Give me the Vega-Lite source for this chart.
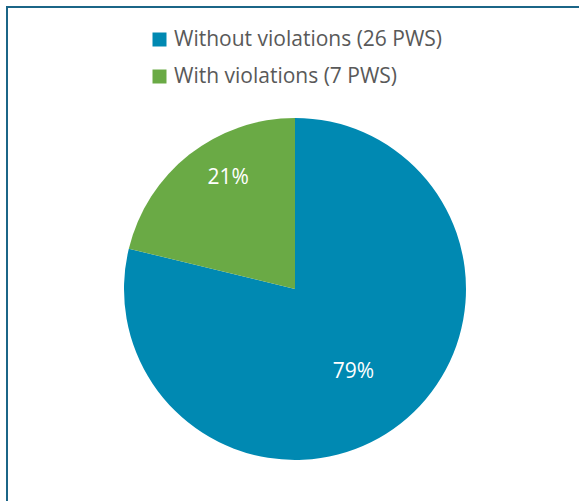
{
  "$schema": "https://vega.github.io/schema/vega-lite/v6.json",
  "width": 576,
  "height": 564,
  "autosize": {"type": "none"},
  "padding": {"left": 7, "top": 7, "right": -4, "bottom": -70},
  "background": "white",
  "config": {
    "view": {"stroke": null},
    "legend": {
      "orient": "none",
      "legendX": 142,
      "legendY": 22,
      "title": null,
      "padding": 0,
      "symbolType": "square",
      "symbolSize": 196,
      "symbolStrokeWidth": 0,
      "labelFont": "Open Sans",
      "labelFontSize": 21,
      "labelColor": "#595959",
      "labelOffset": 4,
      "rowPadding": 15,
      "labelLimit": 400
    }
  },
  "datasets": {
    "slices": [
      {"category": "Without violations (26 PWS)", "count": 26, "pct": "79%", "order": 1},
      {"category": "With violations (7 PWS)", "count": 7, "pct": "21%", "order": 2}
    ],
    "frame": [{"name": "frame"}]
  },
  "layer": [
    {
      "data": {"name": "frame"},
      "mark": {"type": "rect", "fill": null, "stroke": "#1B6587", "strokeWidth": 2},
      "encoding": {
        "x": {"value": 0},
        "x2": {"value": "width"},
        "y": {"value": 0},
        "y2": {"value": "height"}
      }
    },
    {
      "data": {"name": "slices"},
      "mark": {"type": "arc", "radius": 171},
      "encoding": {
        "theta": {"field": "count", "type": "quantitative", "stack": true},
        "order": {"field": "order", "type": "quantitative"},
        "color": {
          "field": "category",
          "type": "nominal",
          "sort": ["Without violations (26 PWS)", "With violations (7 PWS)"],
          "scale": {
            "domain": ["Without violations (26 PWS)", "With violations (7 PWS)"],
            "range": ["#0089B2", "#6AAA45"]
          }
        }
      }
    },
    {
      "data": {"name": "slices"},
      "mark": {"type": "text", "radius": 129, "dx": 13, "dy": -10, "font": "Open Sans", "fontSize": 21, "color": "white", "align": "center", "baseline": "middle"},
      "encoding": {
        "theta": {"field": "count", "type": "quantitative", "stack": true},
        "order": {"field": "order", "type": "quantitative"},
        "text": {"condition": {"test": "datum.order == 2", "field": "pct"}, "value": ""}
      }
    },
    {
      "data": {"name": "slices"},
      "mark": {"type": "text", "radius": 101, "dx": -4, "dy": 4, "font": "Open Sans", "fontSize": 21, "color": "white", "align": "center", "baseline": "middle"},
      "encoding": {
        "theta": {"field": "count", "type": "quantitative", "stack": true},
        "order": {"field": "order", "type": "quantitative"},
        "text": {"condition": {"test": "datum.order == 1", "field": "pct"}, "value": ""}
      }
    }
  ]
}
